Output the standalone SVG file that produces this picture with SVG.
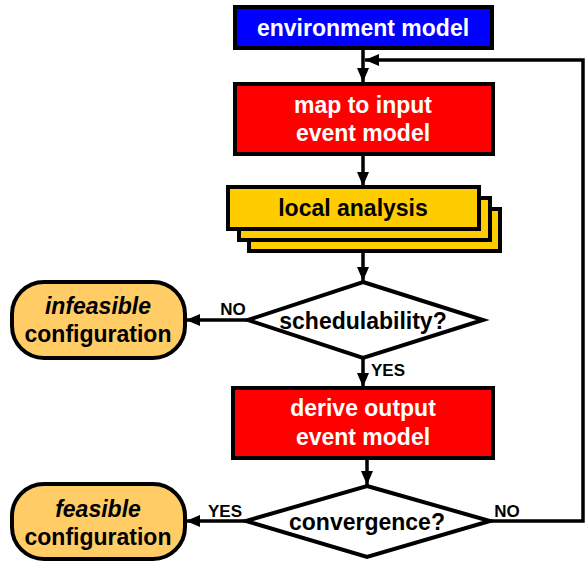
<svg xmlns="http://www.w3.org/2000/svg" width="586" height="562" viewBox="0 0 586 562">
<style>
.box{stroke:#000;stroke-width:4}
.t{font-family:"Liberation Sans",Arial,sans-serif;font-weight:bold;font-size:23px;text-anchor:middle}
.w{fill:#fff}
.k{fill:#000}
.lbl{font-family:"Liberation Sans",Arial,sans-serif;font-weight:bold;font-size:17px;text-anchor:middle;fill:#000}
.it{font-style:italic}
.c{fill:none;stroke:#000;stroke-width:3.5}
</style>
<defs>
<marker id="ah" markerUnits="userSpaceOnUse" markerWidth="14" markerHeight="14" viewBox="0 0 14 14" refX="14" refY="7" orient="auto">
<path d="M0,1 L14,7 L0,13 Z" fill="#000"/>
</marker>
</defs>
<rect width="586" height="562" fill="#fff"/>
<g id="connectors">
<path class="c" d="M363 49 V82" marker-end="url(#ah)"/>
<path class="c" d="M490 521 H583 V60 H365" marker-end="url(#ah)"/>
<path class="c" d="M363 155 V186" marker-end="url(#ah)"/>
<path class="c" d="M363 251 V281" marker-end="url(#ah)"/>
<path class="c" d="M363 358 V387" marker-end="url(#ah)"/>
<path class="c" d="M248 320 H186" marker-end="url(#ah)"/>
<path class="c" d="M367 458 V485" marker-end="url(#ah)"/>
<path class="c" d="M246 521 H186" marker-end="url(#ah)"/>
<text class="lbl" x="233" y="315">NO</text>
<text class="lbl" x="388" y="376">YES</text>
<text class="lbl" x="225" y="517">YES</text>
<text class="lbl" x="507" y="517">NO</text>
</g>
<g id="env">
<rect class="box" x="235" y="7" width="257" height="41" fill="#0000FF"/>
<text class="t w" x="363" y="36">environment model</text>
</g>
<g id="map">
<rect class="box" x="235" y="84" width="258" height="70" fill="#FF0000"/>
<text class="t w" x="363" y="113">map to input</text>
<text class="t w" x="363" y="141">event model</text>
</g>
<g id="local">
<rect class="box" x="249" y="209" width="251" height="42" fill="#FFCC00"/>
<rect class="box" x="239" y="198" width="251" height="42" fill="#FFCC00"/>
<rect class="box" x="228" y="187" width="251" height="42" fill="#FFCC00"/>
<text class="t k" x="353" y="216">local analysis</text>
</g>
<g id="schedulability">
<polygon class="box" points="363,282 483,320 363,358 248,320" fill="#fff"/>
<text class="t k" x="363" y="329">schedulability?</text>
</g>
<g id="infeasible">
<rect class="box" x="12" y="282" width="173" height="76" rx="32" fill="#FFCC66"/>
<text class="t k it" x="98" y="314">infeasible</text>
<text class="t k" x="98" y="342">configuration</text>
</g>
<g id="derive">
<rect class="box" x="233" y="388" width="260" height="70" fill="#FF0000"/>
<text class="t w" x="363" y="416">derive output</text>
<text class="t w" x="363" y="445">event model</text>
</g>
<g id="convergence">
<polygon class="box" points="367,486 490,521 367,557 246,521" fill="#fff"/>
<text class="t k" x="367" y="530">convergence?</text>
</g>
<g id="feasible">
<rect class="box" x="12" y="484" width="173" height="75" rx="32" fill="#FFCC66"/>
<text class="t k it" x="98" y="517">feasible</text>
<text class="t k" x="98" y="545">configuration</text>
</g>
</svg>
